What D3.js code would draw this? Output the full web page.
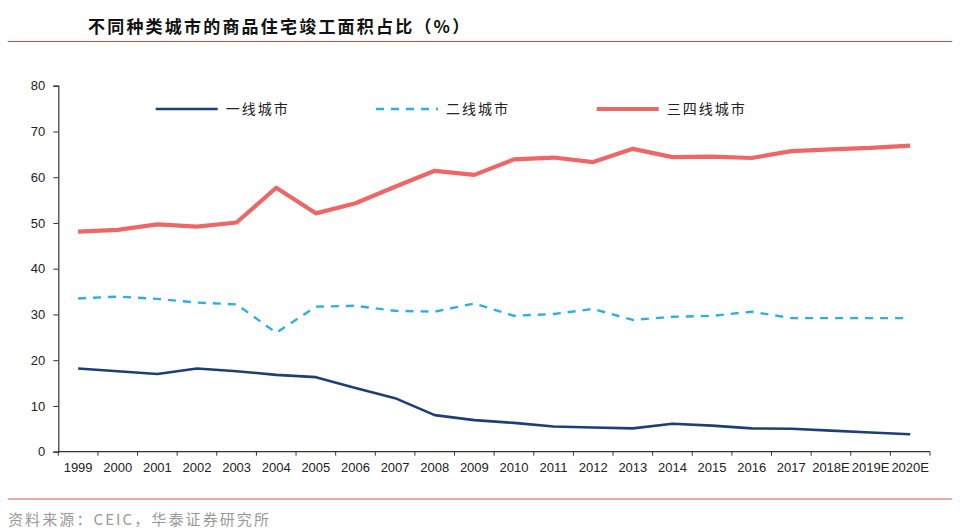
<!DOCTYPE html>
<html><head><meta charset="utf-8">
<script src="https://cdn.jsdelivr.net/npm/d3@7/dist/d3.min.js"></script>
<style>body{margin:0;background:#fff;} svg{display:block;}</style>
</head><body>
<svg id="c" width="960" height="529"></svg>
<script>
const categories = ["1999","2000","2001","2002","2003","2004","2005","2006","2007","2008","2009","2010","2011","2012","2013","2014","2015","2016","2017","2018E","2019E","2020E"];
const tier1 = [18.2,17.6,17.0,18.2,17.6,16.8,16.3,13.9,11.7,8.0,6.9,6.3,5.5,5.3,5.1,6.1,5.7,5.1,5.0,4.6,4.2,3.8];
const tier2 = [33.5,33.9,33.4,32.6,32.2,26.0,31.7,31.9,30.8,30.6,32.4,29.7,30.1,31.2,28.8,29.5,29.7,30.6,29.2,29.2,29.2,29.2];
const tier34 = [48.1,48.5,49.7,49.2,50.1,57.7,52.1,54.3,57.9,61.4,60.5,63.9,64.3,63.3,66.2,64.4,64.5,64.2,65.7,66.1,66.4,66.9];
const seriesNames = ["一线城市","二线城市","三四线城市"];
const yTicks = [0,10,20,30,40,50,60,70,80];
const titleText = "不同种类城市的商品住宅竣工面积占比（%）";
const sourceText = "资料来源：CEIC，华泰证券研究所";

(function () {
const svg = d3.select("#c");
const mL = 58.3, mR = 930, mT = 85.7, mB = 451.7;
const x = d3.scaleBand().domain(categories).range([mL, mR]);
const y = d3.scaleLinear().domain([0, 80]).range([mB, mT]);
const cjk = "'Noto Sans CJK SC', 'Noto Sans', sans-serif";
const lat = "'Liberation Sans', Arial, sans-serif";

// title
svg.append("text").attr("x", 88).attr("y", 33).text(titleText)
  .attr("font-family", cjk).attr("font-weight", "bold").attr("font-size", 17)
  .attr("letter-spacing", 2.2).attr("fill", "#111");
svg.append("line").attr("x1", 8).attr("x2", 952).attr("y1", 41.5).attr("y2", 41.5)
  .attr("stroke", "#d9494a").attr("stroke-width", 1);
svg.append("line").attr("x1", 8).attr("x2", 952).attr("y1", 499).attr("y2", 499)
  .attr("stroke", "#e05252").attr("stroke-width", 1.2);
svg.append("text").attr("x", 8).attr("y", 525).text(sourceText)
  .attr("font-family", cjk).attr("font-size", 15).attr("letter-spacing", 2.1).attr("fill", "#999");

// axes
const yAxis = svg.append("g").attr("transform", `translate(${mL},0)`)
  .call(d3.axisLeft(y).tickValues(yTicks).tickSize(5).tickPadding(8));
const xAxis = svg.append("g").attr("transform", `translate(0,${mB})`)
  .call(d3.axisBottom(x).tickSize(0).tickPadding(11));
const bounds = categories.map(c => x(c)).concat([x(categories[categories.length-1]) + x.bandwidth()]);
xAxis.selectAll(".bt").data(bounds).enter().append("line").attr("class","bt")
  .attr("x1", d => d).attr("x2", d => d).attr("y1", 0).attr("y2", 4).attr("stroke", "#333");
[yAxis, xAxis].forEach(g => {
  g.selectAll(".domain").attr("stroke", "#333").attr("stroke-width", 1.2);
  g.selectAll(".tick line").attr("stroke", "#333");
  g.selectAll("text").attr("font-family", lat).attr("font-size", 13).attr("fill", "#222");
});
xAxis.select(".domain").attr("d", `M${mL},0H${mR}`);

const line = d3.line().x((d, i) => x(categories[i]) + x.bandwidth() / 2).y(d => y(d));
const styles = [
  {data: tier1, color: "#1c3f78", w: 2.6, dash: null},
  {data: tier2, color: "#2bb0e0", w: 2.4, dash: "8,7"},
  {data: tier34, color: "#ee6767", w: 4.2, dash: null}
];
styles.forEach(s => {
  svg.append("path").datum(s.data).attr("d", line).attr("fill", "none")
    .attr("stroke", s.color).attr("stroke-width", s.w).attr("stroke-linejoin", "round")
    .attr("stroke-dasharray", s.dash);
});

// legend
const legendX = [155.7, 376, 596.7];
const legendY = 109;
seriesNames.forEach((n, i) => {
  const s = styles[i];
  svg.append("line").attr("x1", legendX[i]).attr("x2", legendX[i] + 62).attr("y1", legendY).attr("y2", legendY)
    .attr("stroke", s.color).attr("stroke-width", s.w).attr("stroke-dasharray", s.dash);
  svg.append("text").attr("x", legendX[i] + 70).attr("y", legendY + 5).text(n)
    .attr("font-family", cjk).attr("font-size", 14).attr("fill", "#222").attr("letter-spacing", 2);
});
})();
</script>
</body></html>
